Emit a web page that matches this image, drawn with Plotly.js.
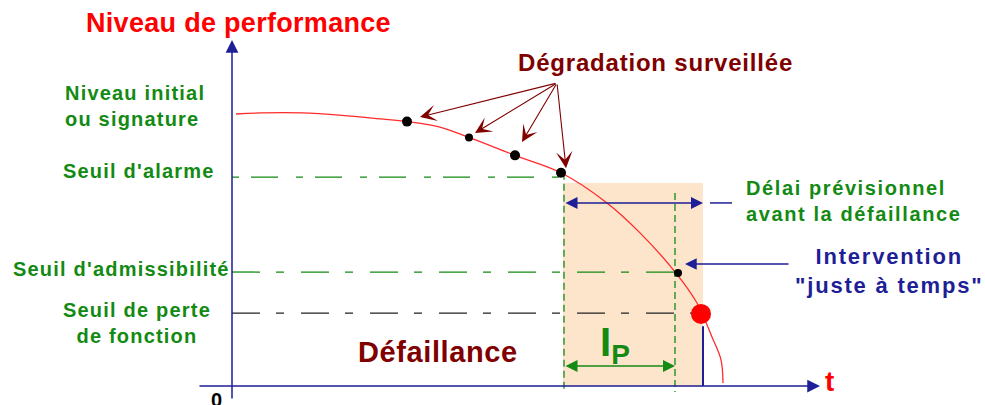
<!DOCTYPE html>
<html>
<head>
<meta charset="utf-8">
<script src="https://cdn.plot.ly/plotly-3.0.1.min.js"></script>
<style>
  html, body { margin: 0; padding: 0; background: #ffffff; }
  #chart { width: 985px; height: 405px; }
</style>
</head>
<body>
<div id="chart"></div>
<script>
// Courbe de dégradation (temps t, niveau de performance)
const courbeT = [0.4, 3.0, 7.0, 11.0, 14.8, 17.5, 20.8, 23.7, 28.3, 32.9, 37.5, 40.8, 44.4, 46.5, 48.0, 48.9, 49.1];
const courbeP = [100.0, 100.4, 100.4, 99.5, 98.2, 97.2, 95.2, 91.4, 84.8, 78.4, 67.3, 56.3, 41.5, 30.5, 18.0, 9.6, 1.1];

// Mesures de surveillance (points noirs)
const mesuresT = [17.5, 23.7, 28.3, 32.9, 44.6];
const mesuresP = [97.2, 91.4, 84.8, 78.4, 41.5];
const mesuresTaille = [10, 8, 10, 10, 8];

// Point de défaillance (rouge)
const defaillanceT = [46.9];
const defaillanceP = [26.5];

// Seuils
const seuilAlarme = 76.8;
const seuilAdmissibilite = 41.9;
const seuilPerte = 26.8;
const finAlarme = 32.9;
const finAdmissibilite = 44.4;
const finPerte = 46.0;

// Lignes verticales en pointillés (début alerte, intervention)
const vertT = [33.2, 44.3];
const vertHaut = [78.4, 71.0];
const vertBas = -2.2;

// Zone de prévision
const zoneT = [33.1, 47.1];
const zoneP = [0, 74.6];

// Délai prévisionnel (flèche bleue) et intervalle Ip (flèche verte)
const delaiT = [33.2, 47.1];
const delaiP = 67.3;
const delaiSuiteT = [47.8, 50.0];
const ipT = [33.2, 44.3];
const ipP = 7.35;

// Trait vertical sous le point de défaillance
const chuteT = [47.1, 47.1];
const chuteP = [22.0, 0];

// Axes
const axeYT = 0, axeYBas = -5.15, axeYHaut = 127.2;
const axeXP = 0, axeXGauche = -3.4, axeXDroite = 58.8;

// Flèches "Dégradation surveillée"
const degOrigineT = 32.5, degOrigineP = 111.4;
const degPointeT = [18.8, 24.3, 29.0, 33.4];
const degPointeP = [98.9, 93.0, 89.7, 80.1];

// Flèche intervention
const interT = [55.8, 45.3];
const interP = 44.85;

const vert = '#138a13';
const bleu = '#1e1e96';
const bordeaux = '#800000';
const police = 'Liberation Sans, Arial, sans-serif';

function espace(txt, px) {
    return txt.split('<br>').map(l => '<span style="letter-spacing:' + px + 'px">' + l + '</span>').join('<br>');
}

const traces = [
    {
        x: courbeT, y: courbeP, type: 'scatter', mode: 'lines',
        line: { color: '#ff2b2b', width: 1.3, shape: 'spline' }, hoverinfo: 'skip'
    },
    {
        x: [0, finAlarme], y: [seuilAlarme, seuilAlarme], type: 'scatter', mode: 'lines',
        line: { color: vert, width: 1.3, dash: '7px,12px,27px,18px' }
    },
    {
        x: [0, finAdmissibilite], y: [seuilAdmissibilite, seuilAdmissibilite], type: 'scatter', mode: 'lines',
        line: { color: vert, width: 1.3, dash: '28px,16px,8px,17px' }
    },
    {
        x: [0, finPerte], y: [seuilPerte, seuilPerte], type: 'scatter', mode: 'lines',
        line: { color: '#222222', width: 1.3, dash: '28px,16px,8px,17px' }
    },
    {
        x: [vertT[0], vertT[0]], y: [vertHaut[0], vertBas], type: 'scatter', mode: 'lines',
        line: { color: vert, width: 1.3, dash: '7px,4px' }
    },
    {
        x: [vertT[1], vertT[1]], y: [vertHaut[1], vertBas], type: 'scatter', mode: 'lines',
        line: { color: vert, width: 1.3, dash: '7px,4px' }
    },
    {
        x: delaiSuiteT, y: [delaiP, delaiP], type: 'scatter', mode: 'lines',
        line: { color: bleu, width: 1.5 }
    },
    {
        x: chuteT, y: chuteP, type: 'scatter', mode: 'lines',
        line: { color: bleu, width: 2 }
    },
    {
        x: mesuresT, y: mesuresP, type: 'scatter', mode: 'markers',
        marker: { color: '#000000', size: mesuresTaille, opacity: 1, line: { width: 0 } }
    },
    {
        x: defaillanceT, y: defaillanceP, type: 'scatter', mode: 'markers',
        marker: { color: '#ff0000', size: 20, opacity: 1, line: { width: 0 } }
    }
];

// Annotations : flèches
const annotations = [];

function fleche(x, y, ax, ay, couleur, opts) {
    annotations.push(Object.assign({
        x: x, y: y, ax: ax, ay: ay, xref: 'x', yref: 'y', axref: 'x', ayref: 'y',
        text: '', showarrow: true, arrowhead: 2, arrowsize: 1.6, arrowwidth: 1.5,
        arrowcolor: couleur, standoff: 0, startstandoff: 0
    }, opts || {}));
}

// axes
fleche(axeYT, axeYHaut, axeYT, axeYBas, bleu, { arrowsize: 1.7 });
fleche(axeXDroite, axeXP, axeXGauche, axeXP, bleu, { arrowsize: 1.7 });

// dégradation surveillée
degPointeT.forEach((t, i) => {
    fleche(t, degPointeP[i], degOrigineT, degOrigineP, bordeaux, { arrowhead: 3, arrowwidth: 1.1, arrowsize: 2.5 });
});

// délai prévisionnel
fleche(delaiT[1], delaiP, delaiT[0], delaiP, bleu, { arrowside: 'end+start', startarrowhead: 2, startarrowsize: 1.6, arrowwidth: 1.5 });
// Ip
fleche(ipT[1], ipP, ipT[0], ipP, vert, { arrowside: 'end+start', startarrowhead: 2, startarrowsize: 1.6, arrowwidth: 1.5 });
// intervention juste à temps
fleche(interT[1], interP, interT[0], interP, bleu, { arrowwidth: 1.3, arrowsize: 1.8 });

// Annotations : textes
function texte(t, x, y, couleur, taille, opts) {
    annotations.push(Object.assign({
        text: t, x: x, y: y, xref: 'x', yref: 'y', showarrow: false,
        font: { family: police, size: taille, color: couleur, weight: 'bold' }
    }, opts || {}));
}

texte(espace('Niveau de performance', 0.3), 0.6, 133.5, '#ff0000', 27);
texte(espace('Dégradation surveillée', 0.8), 42.3, 119.1, bordeaux, 24);
texte(espace('Niveau initial<br>ou signature', 1.2), -16.9, 103.0, vert, 20, { xanchor: 'left', align: 'left' });
texte(espace("Seuil d'alarme", 1.2), -1.5, 79.0, vert, 20, { xanchor: 'right' });
texte(espace("Seuil d'admissibilité", 1.2), 0, 43.0, vert, 20, { xanchor: 'right' });
texte(espace('Seuil de perte<br>de fonction', 1.2), -9.5, 23.0, vert, 20, { align: 'center' });
texte(espace('Défaillance', 0.6), 20.6, 12.5, bordeaux, 29);
texte('I<sub>P</sub>', 38.3, 15.0, vert, 40);
texte(espace('Délai prévisionnel<br>avant la défaillance', 1.6), 51.2, 68.0, vert, 20, { xanchor: 'left', align: 'left' });
texte(espace('Intervention<br>"juste à temps"', 1.8), 65.7, 42.3, bleu, 22, { align: 'center' });
texte('t', 59.7, 1.8, '#ff0000', 28);
texte('0', -1.6, -5.3, '#000000', 20);

const layout = {
    width: 985,
    height: 405,
    margin: { l: 0, r: 0, t: 0, b: 0 },
    paper_bgcolor: '#ffffff',
    plot_bgcolor: '#ffffff',
    showlegend: false,
    xaxis: { range: [-23.2, 75.3], visible: false, fixedrange: true },
    yaxis: { range: [-6.985, 141.91], visible: false, fixedrange: true },
    shapes: [{
        type: 'rect', xref: 'x', yref: 'y', layer: 'below',
        x0: zoneT[0], x1: zoneT[1], y0: zoneP[0], y1: zoneP[1],
        fillcolor: '#fde5cc', line: { width: 0 }
    }],
    annotations: annotations,
    font: { family: police }
};

Plotly.newPlot('chart', traces, layout, { staticPlot: true, displayModeBar: false });
</script>
</body>
</html>
